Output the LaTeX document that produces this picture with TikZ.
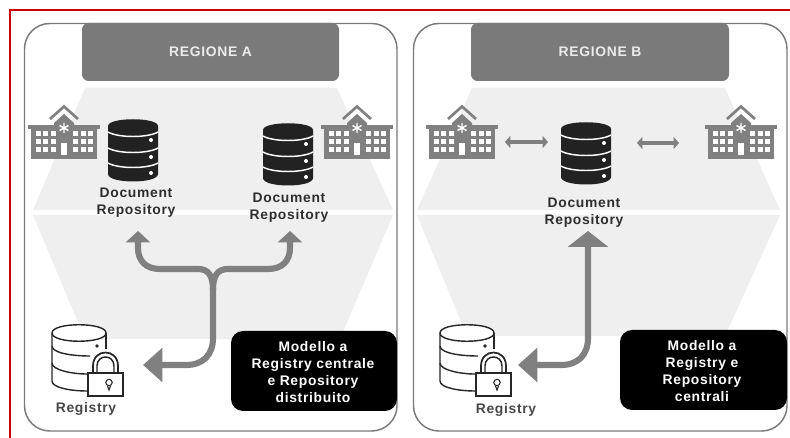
\documentclass[tikz,border=0pt]{standalone}
\usepackage{fontspec}
\setmainfont{Liberation Sans}[LetterSpace=5]
\usetikzlibrary{arrows.meta}
\definecolor{panelline}{HTML}{7A7A7A}
\definecolor{headgrey}{HTML}{7A7A7A}
\definecolor{bandgrey}{HTML}{EFEFEF}
\definecolor{flowgrey}{HTML}{808080}
\definecolor{dbdark}{HTML}{222222}
\definecolor{framered}{HTML}{CC0000}
\tikzset{
  panel/.style={draw=panelline,line width=1.1pt,fill=white,rounded corners=19pt},
  headbox/.style={fill=headgrey,rounded corners=5pt},
  band/.style={fill=bandgrey},
  hdtext/.style={font=\bfseries\fontsize{10.4}{12}\selectfont,text=white!92!black},
  lbl/.style={font=\bfseries\fontsize{10.4}{12}\selectfont,text=black!82,align=center,inner sep=0pt},
  reglbl/.style={font=\bfseries\fontsize{10.4}{12}\selectfont,text=black!72,inner sep=0pt},
  modelbox/.style={fill=black,rounded corners=9pt},
  modeltext/.style={font=\bfseries\fontsize{10.4}{12.6}\selectfont,text=white,align=center,inner sep=0pt},
  flow/.style={draw=flowgrey,line width=4.6pt,rounded corners=0pt},
  minor/.style={draw=flowgrey,line width=2.8pt,{Triangle[length=4pt,width=9pt]}-{Triangle[length=4pt,width=9pt]}},
  icon/.style={line width=1.05pt,draw=black!85}
}
\newcommand{\hospitalicon}[1]{%
  \begin{scope}[shift={(#1,105)}]
    \draw[flowgrey,line width=2pt] (-14,14) -- (0,1.5) -- (14,14);
    \fill[flowgrey] (-36,20) rectangle (36,24);
    \fill[flowgrey] (-33,24) rectangle (33,54);
    \fill[flowgrey] (-10,18) -- (0,9) -- (10,18) -- (10,24) -- (-10,24) -- cycle;
    \foreach \wx in {-28.5,-21,-13.5,9,16.5,24}{
      \foreach \wy in {26.5,34.5,42.5}{
        \fill[white] (\wx,\wy) rectangle ++(5,4.5);
      }
    }
    \fill[white] (-3,38) rectangle (3,50);
    \draw[white,line width=1.1pt] (0,18) -- (0,28) (-4.5,20.5) -- (4.5,25.5) (-4.5,25.5) -- (4.5,20.5);
  \end{scope}}
\newcommand{\dbicon}[2]{%
  \begin{scope}[shift={(#1,#2)}]
    \fill[dbdark] (-25,7) .. controls (-25,-2) and (25,-2) .. (25,7) -- (25,55) .. controls (25,65) and (-25,65) .. (-25,55) -- cycle;
    \foreach \dy in {13,29,44}{
      \draw[white,line width=1.1pt] (-25,\dy) .. controls (-15,\dy+6) and (15,\dy+6) .. (25,\dy);
    }
    \foreach \dy in {21,38,54}{
      \fill[white] (18,\dy) circle (2);
    }
  \end{scope}}
\newcommand{\registryicon}[1]{%
  \begin{scope}[shift={(#1,0)}]
    \draw[icon,fill=white] (52,333) .. controls (52,322) and (106,322) .. (106,333) .. controls (106,344) and (52,344) .. (52,333) -- cycle;
    \draw[icon] (52,333) -- (52,381) .. controls (52,388) and (72,391) .. (87,391);
    \draw[icon] (106,333) -- (106,349);
    \draw[icon] (52,346) .. controls (52,353) and (72,356) .. (90,356);
    \draw[icon] (52,363) .. controls (52,370) and (72,374) .. (87,374);
    \fill[black!85] (97,346) circle (1.8);
    \draw[icon,line width=1.3pt,fill=white] (93,373) -- (93,366) .. controls (93,348) and (118,348) .. (118,366) -- (118,373);
    \draw[icon,line width=1.1pt] (97,373) -- (97,366) .. controls (97,354) and (114,354) .. (114,366) -- (114,373);
    \draw[icon,fill=white] (88,373) rectangle (123,396);
    \draw[icon,line width=.8pt] (109,382.5) circle (3.2);
    \draw[icon,line width=.8pt] (107.5,386) -- (109,390) -- (110.5,386);
  \end{scope}}
\begin{document}
\begin{tikzpicture}[x=.75pt,y=-.75pt]
\useasboundingbox (0,0) rectangle (790,438);
\fill[white] (0,0) rectangle (790,438);
% frame
\coordinate (frameA) at (10,438);
\coordinate (frameB) at (10,10);
\coordinate (frameC) at (790,10);
\draw[framered,line width=1.4pt] (frameA) -- (frameB) -- (frameC);
% panels
\draw[panel] (24.5,23.5) rectangle (397,431);
\draw[panel] (413.5,23.5) rectangle (787,431);
% bands
\fill[band] (85,88) -- (337,88) -- (393,210) -- (33,210) -- cycle;
\fill[band] (33,215) -- (393,215) -- (340,339) -- (85,339) -- cycle;
\fill[band] (472,88) -- (725,88) -- (780,210) -- (417,210) -- cycle;
\fill[band] (417,215) -- (780,215) -- (725,336) -- (467,336) -- cycle;
% headers
\node[headbox,minimum width=192.75pt,minimum height=43.5pt,inner sep=0pt,hdtext] (headA) at (210.5,52) {REGIONE A};
\node[headbox,minimum width=193.5pt,minimum height=43.5pt,inner sep=0pt,hdtext] (headB) at (600,52) {REGIONE B};
% icons
\hospitalicon{64}
\hospitalicon{357}
\hospitalicon{462}
\hospitalicon{741}
\dbicon{133}{119}
\dbicon{288}{123}
\dbicon{586}{122}
\registryicon{0}
\registryicon{388}
% labels
\node[lbl] (repoA1) at (136,202.5) {Document\\[1pt]Repository};
\node[lbl] (repoA2) at (289,207.5) {Document\\[1pt]Repository};
\node[lbl] (repoB) at (584,213) {Document\\[1pt]Repository};
\node[reglbl] (regA) at (86,409) {Registry};
\node[reglbl] (regB) at (506,410) {Registry};
% model boxes
\node[modelbox,minimum width=124.5pt,minimum height=60pt,inner sep=0pt] (modA) at (314,371) {};
\node[modeltext] (modAt) at (313,372) {Modello a\\Registry centrale\\e Repository\\distribuito};
\node[modelbox,minimum width=125.25pt,minimum height=60pt,inner sep=0pt] (modB) at (703.5,370) {};
\node[modeltext] (modBt) at (702,371) {Modello a\\Registry e\\Repository\\centrali};
% connector ends
\coordinate (tipA1) at (138,231);
\coordinate (tipA2) at (290,231);
\coordinate (tipAR) at (143,365);
\coordinate (tipB) at (588,231);
\coordinate (tipBR) at (518,365);
\coordinate (forkA) at (213,290);
\coordinate (h1a) at (505,142);
\coordinate (h1b) at (548,142);
\coordinate (h2a) at (637,143);
\coordinate (h2b) at (679,143);
% flows
\draw[flow,-{Triangle[length=8.5pt,width=18pt]}] (forkA) .. controls (213,275) and (208,269) .. (198,269) -- (160,269) .. controls (146,269) and (138,261) .. (138,248) -- (tipA1);
\draw[flow,-{Triangle[length=8.5pt,width=18pt]}] (forkA) .. controls (213,275) and (218,269) .. (228,269) -- (268,269) .. controls (282,269) and (290,261) .. (290,248) -- (tipA2);
\draw[flow,-{Triangle[length=14.5pt,width=25pt]}] (forkA) -- (213,338) .. controls (213,355) and (203,365) .. (186,365) -- (tipAR);
\draw[flow,{Triangle[length=12pt,width=30pt]}-{Triangle[length=14.5pt,width=25pt]}] (tipB) -- (588,338) .. controls (588,355) and (578,365) .. (561,365) -- (tipBR);
\draw[minor] (h1a) -- (h1b);
\draw[minor] (h2a) -- (h2b);
\end{tikzpicture}
\end{document}
